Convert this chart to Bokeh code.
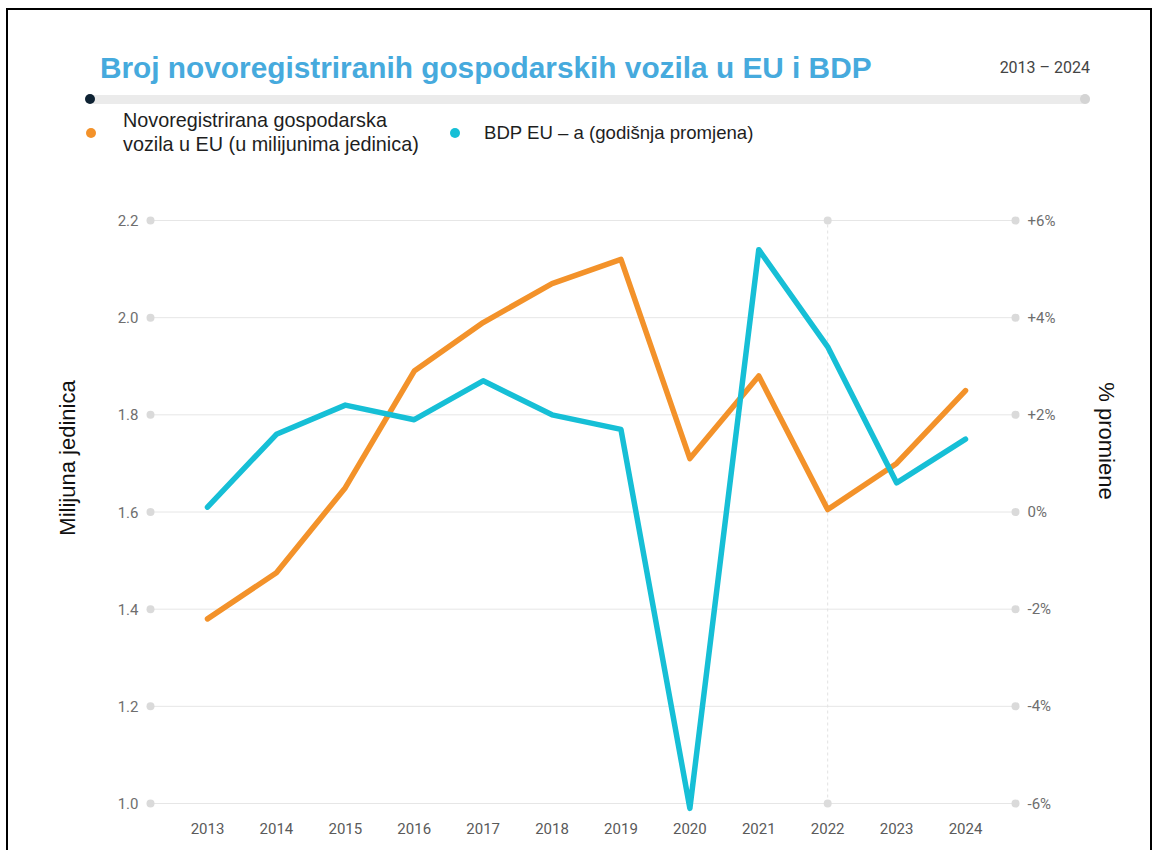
from bokeh.plotting import figure
from bokeh.models import Range1d, LinearAxis, FixedTicker, Div
from bokeh.layouts import column, row
from bokeh.embed import file_html
from bokeh.resources import INLINE

# ---------------- data ----------------
years = [2013, 2014, 2015, 2016, 2017, 2018, 2019, 2020, 2021, 2022, 2023, 2024]
vehicles_mln = [1.38, 1.475, 1.65, 1.89, 1.99, 2.07, 2.12, 1.71, 1.88, 1.605, 1.70, 1.85]
gdp_change_pct = [0.1, 1.6, 2.2, 1.9, 2.7, 2.0, 1.7, -6.1, 5.4, 3.4, 0.6, 1.5]

left_ticks = [1.0, 1.2, 1.4, 1.6, 1.8, 2.0, 2.2]
left_tick_labels = ["1.0", "1.2", "1.4", "1.6", "1.8", "2.0", "2.2"]
right_ticks = [-6, -4, -2, 0, 2, 4, 6]
right_tick_labels = ["-6%", "-4%", "-2%", "0%", "+2%", "+4%", "+6%"]
year_labels = [str(y) for y in years]
highlight_year = 2022

title_text = "Broj novoregistriranih gospodarskih vozila u EU i BDP"
period_text = "2013 \u2013 2024"
legend_labels = ["Novoregistrirana gospodarska\nvozila u EU (u milijunima jedinica)",
                 "BDP EU \u2013 a (godi\u0161nja promjena)"]
left_title = "Milijuna jedinica"
right_title = "% promiene"

ORANGE = "#F3922A"
CYAN = "#16BFD6"
TITLE_BLUE = "#46AADD"

# ---------------- geometry (page pixels) ----------------
PAGE_W, PAGE_H = 1160, 850
HEAD_H = 165                     # header height
LEFT_W, RIGHT_W = 100, 90        # side columns
CH_W = PAGE_W - LEFT_W - RIGHT_W
CH_H = PAGE_H - HEAD_H
FL, FR, FT, FB = 145, 1020, 200, 815           # frame edges on the page
X0PX, X1PX = 207.0, 965.0                      # first / last year
Y_TOP_PX, Y_BOT_PX = 220.0, 803.0              # 2.2 / 1.0
ppy = (X1PX - X0PX) / (years[-1] - years[0])
ppu = (Y_BOT_PX - Y_TOP_PX) / (left_ticks[-1] - left_ticks[0])


def fx(px):
    return years[0] + (px - X0PX) / ppy


def fy(py):
    return left_ticks[-1] - (py - Y_TOP_PX) / ppu


def to_pct(v):
    return (v - 1.6) * 10.0


x_start, x_end = fx(FL), fx(FR)
y_start, y_end = fy(FB), fy(FT)

p = figure(width=CH_W, height=CH_H, output_backend="svg", toolbar_location=None,
           x_range=Range1d(x_start, x_end), y_range=Range1d(y_start, y_end),
           x_axis_location=None, y_axis_location=None,
           min_border_left=FL - LEFT_W, min_border_right=(LEFT_W + CH_W) - FR,
           min_border_top=FT - HEAD_H, min_border_bottom=PAGE_H - FB,
           background_fill_color="white", border_fill_color="white")
p.extra_y_ranges = {"pct": Range1d(to_pct(y_start), to_pct(y_end))}
p.outline_line_color = None
p.xgrid.visible = False
p.ygrid.visible = False

TICK_FONT = "Roboto"


def style_axis(ax):
    ax.axis_line_color = None
    ax.major_tick_line_color = None
    ax.minor_tick_line_color = None
    ax.major_tick_in = 0
    ax.major_tick_out = 0
    ax.major_label_text_font = TICK_FONT
    ax.major_label_text_font_size = "15px"
    ax.major_label_text_color = "#6e6e6e"
    ax.major_label_standoff = 7


xa = LinearAxis(ticker=FixedTicker(ticks=years),
                major_label_overrides={y: l for y, l in zip(years, year_labels)})
style_axis(xa)
xa.major_label_text_color = "#5a5a5a"
p.add_layout(xa, "below")

ya = LinearAxis(ticker=FixedTicker(ticks=left_ticks),
                major_label_overrides={t: l for t, l in zip(left_ticks, left_tick_labels)})
style_axis(ya)
p.add_layout(ya, "left")

ra = LinearAxis(y_range_name="pct", ticker=FixedTicker(ticks=right_ticks),
                major_label_overrides={t: l for t, l in zip(right_ticks, right_tick_labels)})
style_axis(ra)
p.add_layout(ra, "right")

# gridlines with end dots
gx0, gx1 = fx(150), fx(1015)
p.segment(x0=[gx0] * len(left_ticks), x1=[gx1] * len(left_ticks), y0=left_ticks, y1=left_ticks,
          line_color="#e6e6e6", line_width=1)
p.scatter(x=[gx0] * len(left_ticks) + [gx1] * len(left_ticks), y=left_ticks + left_ticks,
          size=8, fill_color="#dadada", line_color=None)

# highlighted year (dashed vertical line)
p.segment(x0=[highlight_year], x1=[highlight_year], y0=[left_ticks[0]], y1=[left_ticks[-1]],
          line_color="#e2e2e2", line_width=1, line_dash="3 3")
p.scatter(x=[highlight_year, highlight_year], y=[left_ticks[0], left_ticks[-1]],
          size=8, fill_color="#dcdcdc", line_color=None)

# series
p.line(years, vehicles_mln, line_color=ORANGE, line_width=5.5, line_cap="round", line_join="round")
p.line(years, gdp_change_pct, y_range_name="pct", line_color=CYAN, line_width=5.5,
       line_cap="round", line_join="round")

# ---------------- HTML header and side titles ----------------
SANS = "'Liberation Sans', Arial, sans-serif"
BORDER_L, BORDER_R, BORDER_T, BORDER_W = 6, 1150, 8, 2


def box(left, top, w, h, color, radius=0):
    return (f'<div style="position:absolute;left:{left}px;top:{top}px;width:{w}px;height:{h}px;'
            f'background:{color};border-radius:{radius}px"></div>')


def text_at(left, baseline, size, txt, color, font=SANS, weight="normal", align="left"):
    top = baseline - 0.8465 * size
    pos = f"left:{left}px" if align == "left" else f"right:{PAGE_W - left}px"
    return (f'<div style="position:absolute;{pos};top:{top:.1f}px;font-family:{font};'
            f'font-size:{size}px;line-height:1;font-weight:{weight};color:{color};'
            f'white-space:nowrap">{txt}</div>')


parts = []
parts.append(box(BORDER_L, BORDER_T, BORDER_R - BORDER_L + BORDER_W, BORDER_W, "#000"))
parts.append(box(BORDER_L, BORDER_T, BORDER_W, HEAD_H - BORDER_T, "#000"))
parts.append(box(BORDER_R, BORDER_T, BORDER_W, HEAD_H - BORDER_T, "#000"))
parts.append(text_at(100, 78, 29.8, title_text, TITLE_BLUE, weight="bold"))
parts.append(text_at(1090, 73, 16, period_text, "#444444", font="Roboto", align="right"))
# progress bar
parts.append(box(86, 95, 1004, 9, "#ebebeb", 5))
parts.append(box(85, 94, 10, 10, "#0e2233", 5))
parts.append(box(1080, 94, 10, 10, "#d4d4d4", 5))
# legend
legend_colors = [ORANGE, CYAN]
legend_dot_x = [91, 455]
legend_text_x = [123, 484]
legend_font_px = [19.8, 18.6]
for lab, col, dx, tx, fs in zip(legend_labels, legend_colors, legend_dot_x, legend_text_x,
                                legend_font_px):
    parts.append(box(dx - 5, 128, 10, 10, col, 5))
    lines = lab.split("\n")
    n = len(lines)
    for i, ln in enumerate(lines):
        base = 140 + (i - (n - 1) / 2) * 24
        parts.append(text_at(tx, base, fs, ln, "#1e1e1e"))

header = Div(text=f'<div style="position:relative;width:{PAGE_W}px;height:{HEAD_H}px;'
                  f'overflow:hidden;background:white">' + "".join(parts) + "</div>",
             width=PAGE_W, height=HEAD_H, margin=0)


def rotated(cx, cy, txt, deg, size=22):
    return (f'<div style="position:absolute;left:{cx}px;top:{cy}px;'
            f'transform:translate(-50%,-50%) rotate({deg}deg);font-family:{SANS};'
            f'font-size:{size}px;line-height:1;color:#111;white-space:nowrap">{txt}</div>')


left_div = Div(text=f'<div style="position:relative;width:{LEFT_W}px;height:{CH_H}px;'
                    f'overflow:hidden;background:white">'
                    + box(BORDER_L, 0, BORDER_W, CH_H, "#000")
                    + rotated(68, 458 - HEAD_H, left_title, -90) + "</div>",
               width=LEFT_W, height=CH_H, margin=0)
right_div = Div(text=f'<div style="position:relative;width:{RIGHT_W}px;height:{CH_H}px;'
                     f'overflow:hidden;background:white">'
                     + box(BORDER_R - (PAGE_W - RIGHT_W), 0, BORDER_W, CH_H, "#000")
                     + rotated(1106 - (PAGE_W - RIGHT_W), 441 - HEAD_H, right_title, 90) + "</div>",
                width=RIGHT_W, height=CH_H, margin=0)

p.margin = 0
layout = column(header, row(left_div, p, right_div, spacing=0, margin=0), spacing=0, margin=0)

open("out.html", "w").write(file_html(layout, INLINE))
